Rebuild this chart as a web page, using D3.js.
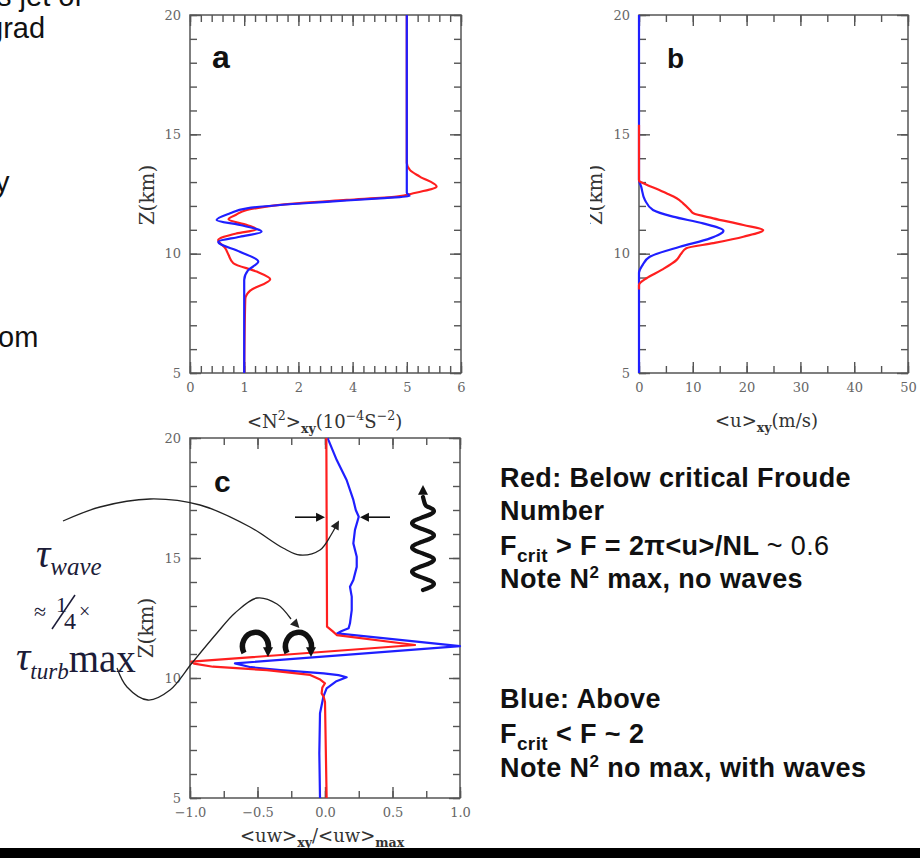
<!DOCTYPE html>
<html><head><meta charset="utf-8">
<script src="https://cdn.jsdelivr.net/npm/d3@7/dist/d3.min.js"></script>
<style>
html,body{margin:0;padding:0;background:#fff;}
svg{display:block;}
</style></head><body>
<svg id="chart" width="920" height="858"></svg>
<script>
// ---------------- DATA ----------------
// shared height axis (km)
const zTicks = [5, 10, 15, 20];
const zMinor = [5,6,7,8,9,10,11,12,13,14,15,16,17,18,19,20];

// Panel a : <N^2>_xy (10^-4 s^-2), tick labels as printed
const aTickLabels = [0, 1, 2, 4, 5, 6];
const aRedZ   = [5, 8.1, 8.45, 8.93, 9.25, 9.6, 9.95, 10.23, 10.57, 10.85, 11.02, 11.2, 11.44, 11.63, 11.83, 12.11, 12.25, 12.39, 12.53, 12.81, 13.23, 13.5, 13.8, 20];
const aRedN2  = [1.0, 1.02, 1.11, 1.48, 1.23, 0.8, 0.71, 0.65, 0.52, 0.86, 1.23, 1.05, 0.71, 0.85, 1.05, 1.97, 3.78, 4.81, 5.12, 5.55, 5.24, 5.06, 5.0, 5.0];
const aBlueZ  = [5, 8.9, 9.3, 9.67, 10.08, 10.5, 10.71, 10.92, 11.2, 11.41, 11.69, 11.9, 12.04, 12.18, 12.32, 12.42, 12.55, 13, 20];
const aBlueN2 = [1.0, 1.0, 1.07, 1.26, 0.92, 0.52, 0.92, 1.32, 0.92, 0.49, 0.74, 1.05, 1.66, 3.16, 4.5, 5.05, 5.0, 5.0, 5.0];

// Panel b : <u>_xy (m/s)
const bTickLabels = [0, 10, 20, 30, 40, 50];
const bRedZ  = [8.5, 8.69, 8.97, 9.32, 9.74, 10.02, 10.23, 10.44, 10.71, 10.99, 11.2, 11.48, 11.69, 11.83, 12.11, 12.32, 12.53, 12.74, 12.95, 13.06, 15.4];
const bRedU  = [0, 0, 1.4, 4.2, 7.0, 7.9, 8.8, 13.8, 19.4, 23.1, 19.4, 13.8, 10.1, 9.5, 8.2, 7.0, 5.1, 3.0, 0.8, 0, 0];
const bBlueZ = [5, 9.2, 9.5, 9.87, 10.29, 10.64, 10.96, 11.27, 11.55, 11.83, 12.25, 12.81, 13.1, 20];
const bBlueU = [0, 0, 0.6, 2.0, 7.6, 13.2, 15.7, 11.9, 6.3, 2.6, 1.1, 0.4, 0, 0];

// Panel c : <uw>_xy / <uw>_max
const cTickLabels = [-1.0, -0.5, 0.0, 0.5, 1.0];
const cRedZ  = [5, 9.0, 9.22, 9.36, 9.6, 9.78, 9.95, 10.13, 10.33, 10.47, 10.6, 10.68, 11.375, 11.79, 11.93, 12.14, 20];
const cRedF  = [0.012, 0.0, -0.01, -0.025, -0.02, 0.0, -0.04, -0.11, -0.43, -0.83, -0.97, -0.99, 0.667, 0.087, 0.06, 0.015, 0.01];
const cBlueZ = [5, 6.86, 8.53, 9.22, 9.57, 9.85, 10.03, 10.12, 10.19, 10.33, 10.45, 10.61, 11.33, 11.86, 11.95, 12.07, 12.28, 12.83, 13.39, 13.8, 14.08, 14.63, 15.05, 15.61, 16.17, 16.72, 17.0, 17.42, 18.25, 19.08, 19.92, 20];
const cBlueF = [-0.037, -0.042, -0.037, -0.012, 0.012, 0.08, 0.16, 0.10, -0.01, -0.33, -0.55, -0.667, 1.0, 0.09, 0.12, 0.175, 0.185, 0.198, 0.198, 0.185, 0.21, 0.235, 0.235, 0.21, 0.222, 0.25, 0.228, 0.21, 0.16, 0.087, 0.025, 0.02];

// ---------------- SETUP ----------------
const svg = d3.select('#chart');
const RED = '#ff1f1f', BLUE = '#1f1fff', FRAME = '#555';
const serif = "'DejaVu Serif', 'Liberation Serif', serif";
const sans = "'Liberation Sans', Arial, sans-serif";
const tserif = "'Liberation Serif', 'Times New Roman', serif";

svg.append('rect').attr('width',920).attr('height',858).attr('fill','#fff');

function subdivide(vals, n){
  const out=[];
  for(let i=0;i<vals.length-1;i++){
    for(let k=0;k<n;k++) out.push(vals[i]+(vals[i+1]-vals[i])*k/n);
  }
  out.push(vals[vals.length-1]);
  return out;
}

function drawFrame(g, x, y, xMajor, xMinor, xFmt){
  const [x0,x1]=[x.range()[0], x.range()[x.range().length-1]];
  const [y1,y0]=y.range();
  const styleAxis = s => { s.select('.domain').remove(); s.selectAll('.tick line').attr('stroke',FRAME).attr('stroke-width',1.4);
    s.selectAll('.tick text').attr('fill','#666').style('font-family',serif).style('font-size','13px'); };
  // minor
  g.append('g').attr('transform',`translate(0,${y1})`).call(d3.axisBottom(x).tickValues(xMinor).tickSize(-7).tickFormat('')).call(styleAxis);
  g.append('g').attr('transform',`translate(0,${y0})`).call(d3.axisTop(x).tickValues(xMinor).tickSize(-7).tickFormat('')).call(styleAxis);
  g.append('g').attr('transform',`translate(${x0},0)`).call(d3.axisLeft(y).tickValues(zMinor).tickSize(-7).tickFormat('')).call(styleAxis);
  g.append('g').attr('transform',`translate(${x1},0)`).call(d3.axisRight(y).tickValues(zMinor).tickSize(-7).tickFormat('')).call(styleAxis);
  // major
  g.append('g').attr('transform',`translate(0,${y1})`).call(d3.axisBottom(x).tickValues(xMajor).tickSize(-11).tickPadding(10).tickFormat(xFmt)).call(styleAxis);
  g.append('g').attr('transform',`translate(0,${y0})`).call(d3.axisTop(x).tickValues(xMajor).tickSize(-11).tickFormat('')).call(styleAxis);
  g.append('g').attr('transform',`translate(${x0},0)`).call(d3.axisLeft(y).tickValues(zTicks).tickSize(-11).tickPadding(9).tickFormat(d3.format('d'))).call(styleAxis);
  g.append('g').attr('transform',`translate(${x1},0)`).call(d3.axisRight(y).tickValues(zTicks).tickSize(-11).tickFormat('')).call(styleAxis);
  g.append('rect').attr('x',x0).attr('y',y0).attr('width',x1-x0).attr('height',y1-y0)
    .attr('fill','none').attr('stroke',FRAME).attr('stroke-width',1.5);
}

function drawCurve(g, x, y, zs, vs, color, curve){
  const pts = zs.map((z,i)=>[vs[i], z]);
  g.append('path').datum(pts)
    .attr('d', d3.line().x(d=>x(d[0])).y(d=>y(d[1])).curve(curve))
    .attr('fill','none').attr('stroke',color).attr('stroke-width',2.2).attr('stroke-linejoin','round');
}

function rich(textSel, parts, base){
  let off=0;
  parts.forEach(p=>{
    const size = p.sup||p.sub ? base*0.7 : base;
    const shift = p.sup ? -0.42*base : (p.sub ? 0.3*base : 0);
    const ts = textSel.append('tspan').text(p.t).attr('dy', shift-off).attr('font-size', size);
    if(p.bold) ts.attr('font-weight','bold');
    off = shift;
  });
}

function yTitle(g, cx, cy){
  g.append('text').attr('transform',`translate(${cx},${cy}) rotate(-90)`).attr('text-anchor','middle')
    .attr('dominant-baseline','central').style('font-family',serif).style('font-size','20px').attr('fill','#333').text('Z(km)');
}

// ---------------- PANEL A ----------------
const xA = d3.scaleLinear().domain(aTickLabels).range(aTickLabels.map((d,i)=>190 + i*(461-190)/(aTickLabels.length-1)));
const yA = d3.scaleLinear().domain([5,20]).range([373,15]);
const gA = svg.append('g');
drawFrame(gA, xA, yA, aTickLabels, subdivide(aTickLabels, 5), d3.format('d'));
drawCurve(gA, xA, yA, aRedZ, aRedN2, RED, d3.curveMonotoneY);
drawCurve(gA, xA, yA, aBlueZ, aBlueN2, BLUE, d3.curveMonotoneY);
yTitle(gA, 147, 195);
rich(gA.append('text').attr('x',247).attr('y',428).style('font-family',serif).attr('fill','#333'),
  [{t:'<N'},{t:'2',sup:true},{t:'>'},{t:'xy',sub:true,bold:true},{t:'(10'},{t:'−4',sup:true},{t:'S'},{t:'−2',sup:true},{t:')'}], 18);
gA.append('text').attr('x',212).attr('y',68).style('font-family',sans).style('font-weight','bold').style('font-size','32px').attr('fill','#111').text('a');

// ---------------- PANEL B ----------------
svg.append('clipPath').attr('id','clipB').append('rect').attr('x',590).attr('y',0).attr('width',330).attr('height',440);
const xB = d3.scaleLinear().domain([0,50]).range([639,908]);
const yB = d3.scaleLinear().domain([5,20]).range([373,15]);
const gB = svg.append('g').attr('clip-path','url(#clipB)');
drawFrame(gB, xB, yB, bTickLabels, d3.range(0,51,5), d3.format('d'));
drawCurve(gB, xB, yB, bBlueZ, bBlueU, BLUE, d3.curveMonotoneY);
drawCurve(gB, xB, yB, bRedZ, bRedU, RED, d3.curveMonotoneY);
yTitle(gB, 595, 195);
rich(gB.append('text').attr('x',715).attr('y',427).style('font-family',serif).attr('fill','#333'),
  [{t:'<u>'},{t:'xy',sub:true,bold:true},{t:'(m/s)'}], 18);
gB.append('text').attr('x',667).attr('y',68).style('font-family',sans).style('font-weight','bold').style('font-size','28px').attr('fill','#111').text('b');

// ---------------- PANEL C ----------------
const xC = d3.scaleLinear().domain([-1,1]).range([190,460]);
const yC = d3.scaleLinear().domain([5,20]).range([798,438]);
const gC = svg.append('g');
drawFrame(gC, xC, yC, cTickLabels, d3.range(-1,1.001,0.25), d3.format('.1f'));
gC.selectAll('.tick text').text(function(){ return this.textContent.replace('-', '−'); });
drawCurve(gC, xC, yC, cBlueZ, cBlueF, BLUE, d3.curveLinear);
drawCurve(gC, xC, yC, cRedZ, cRedF, RED, d3.curveLinear);
yTitle(gC, 146, 628);
rich(gC.append('text').attr('x',240).attr('y',842).style('font-family',serif).attr('fill','#333'),
  [{t:'<uw>'},{t:'xy',sub:true,bold:true},{t:'/<uw>'},{t:'max',sub:true,bold:true}], 18);
gC.append('text').attr('x',214).attr('y',492).style('font-family',sans).style('font-weight','bold').style('font-size','30px').attr('fill','#111').text('c');

// ---------------- ANNOTATIONS (panel c) ----------------
const ann = svg.append('g');
function arrowHead(g, tip, from, size, fill){
  const ang = Math.atan2(tip[1]-from[1], tip[0]-from[0]);
  const a1 = ang + Math.PI*0.85, a2 = ang - Math.PI*0.85;
  g.append('path').attr('d', `M${tip[0]},${tip[1]} L${tip[0]+size*Math.cos(a1)},${tip[1]+size*Math.sin(a1)} L${tip[0]+size*Math.cos(a2)},${tip[1]+size*Math.sin(a2)} Z`).attr('fill',fill);
}
const upperCurve = [[63,521],[100,507],[150,499],[200,505],[250,527],[283,548],[300,555],[320,550],[331,535],[336,526]];
const lowerCurve = [[117,668],[127,687],[148,700],[170,690],[192,663],[217,633],[235,613],[257,598],[277,604],[291,619]];
[upperCurve, lowerCurve].forEach(pts=>{
  ann.append('path').attr('d', d3.line().curve(d3.curveCatmullRom)(pts)).attr('fill','none').attr('stroke','#222').attr('stroke-width',1.3);
  const n=pts.length;
  arrowHead(ann, [pts[n-1][0]+ (pts[n-1][0]-pts[n-2][0])*0.6, pts[n-1][1]+(pts[n-1][1]-pts[n-2][1])*0.6], pts[n-2], 10, '#222');
});
// horizontal arrows at z ~ 16.7
const za = yC(16.7);
ann.append('line').attr('x1',295).attr('x2',318).attr('y1',za).attr('y2',za).attr('stroke','#111').attr('stroke-width',1.6);
arrowHead(ann, [325,za], [295,za], 10, '#111');
ann.append('line').attr('x1',390).attr('x2',367).attr('y1',za).attr('y2',za).attr('stroke','#111').attr('stroke-width',1.6);
arrowHead(ann, [360,za], [390,za], 10, '#111');
// wavy upward arrow
const wave = d3.range(0, 3.5*2*Math.PI+0.001, 0.2).map(t=>[423 + 11*Math.sin(t), 590 - t/(3.5*2*Math.PI)*85]);
wave.push([423, 497]);
ann.append('path').attr('d', d3.line().curve(d3.curveBasis)(wave)).attr('fill','none').attr('stroke','#111').attr('stroke-width',4.2).attr('stroke-linecap','round');
arrowHead(ann, [423,485], [423,500], 11, '#111');
// turbulence eddies
[[256,648],[299,648]].forEach(([cx,cy])=>{
  ann.append('path').attr('d', `M${cx-12},${cy+5} A13,14 0 1 1 ${cx+12},${cy+2}`).attr('fill','none').attr('stroke','#111').attr('stroke-width',5.5);
  arrowHead(ann, [cx+12,cy+9], [cx+12,cy-2], 11, '#111');
});
// left equation text
const eqc = '#1c1c38';
const t1 = ann.append('text').attr('x',36).attr('y',567).style('font-family',tserif).style('font-style','italic').attr('fill',eqc);
t1.append('tspan').attr('font-size',40).text('τ');
t1.append('tspan').attr('font-size',25).attr('dy',8).text('wave');
ann.append('text').attr('x',34).attr('y',619).style('font-family',tserif).attr('font-size',22).attr('fill',eqc).text('≈');
ann.append('text').attr('x',56).attr('y',612).style('font-family',tserif).attr('font-size',22).attr('fill',eqc).text('1');
ann.append('line').attr('x1',52).attr('y1',629).attr('x2',75).attr('y2',595).attr('stroke',eqc).attr('stroke-width',1.5);
ann.append('text').attr('x',64).attr('y',629).style('font-family',tserif).attr('font-size',24).attr('fill',eqc).text('4');
ann.append('text').attr('x',79).attr('y',618).style('font-family',tserif).attr('font-size',20).attr('fill',eqc).text('×');
const t3 = ann.append('text').attr('x',16).attr('y',670).style('font-family',tserif).attr('fill',eqc);
t3.append('tspan').attr('font-size',40).style('font-style','italic').text('τ');
t3.append('tspan').attr('font-size',23).style('font-style','italic').attr('dy',9).text('turb');
t3.append('tspan').attr('font-size',39).attr('dy',-7).text('max');

// ---------------- RIGHT TEXT BLOCK ----------------
const tb = svg.append('g').style('font-family',sans).style('font-weight','bold').attr('fill','#111').style('letter-spacing','0.4px');
function line(y, parts){ const t = tb.append('text').attr('x',500).attr('y',y).attr('font-size',27);
  let off=0; parts.forEach(p=>{ const shift = p.sub?7:(p.sup?-10:0); const ts=t.append('tspan').text(p.t).attr('dy',shift-off).attr('font-size', p.sub?19:(p.sup?17:27)); if(p.normal) ts.style('font-weight','normal'); off=shift;}); }
line(487, [{t:'Red: Below critical Froude'}]);
line(520, [{t:'Number'}]);
line(555, [{t:'F'},{t:'crit',sub:true},{t:' > F = 2π<u>/NL '},{t:'~ 0.6',normal:true}]);
line(588, [{t:'Note N'},{t:'2',sup:true},{t:' max, no waves'}]);
line(708, [{t:'Blue: Above'}]);
line(743, [{t:'F'},{t:'crit',sub:true},{t:' < F ~ 2'}]);
line(777, [{t:'Note N'},{t:'2',sup:true},{t:'  no max, with waves'}]);

// ---------------- CUT-OFF SLIDE TEXT (left) ----------------
const lt = svg.append('g').style('font-family',sans).attr('font-size',29).attr('fill','#111');
lt.append('text').attr('x',-3).attr('y',6).text('s jet of');
lt.append('text').attr('x',-13).attr('y',38).text('grad');
lt.append('text').attr('x',-5).attr('y',192).text('y');
lt.append('text').attr('x',-2).attr('y',347).text('om');

// bottom bar
svg.append('rect').attr('x',0).attr('y',848).attr('width',920).attr('height',10).attr('fill','#000');
</script>
</body></html>
